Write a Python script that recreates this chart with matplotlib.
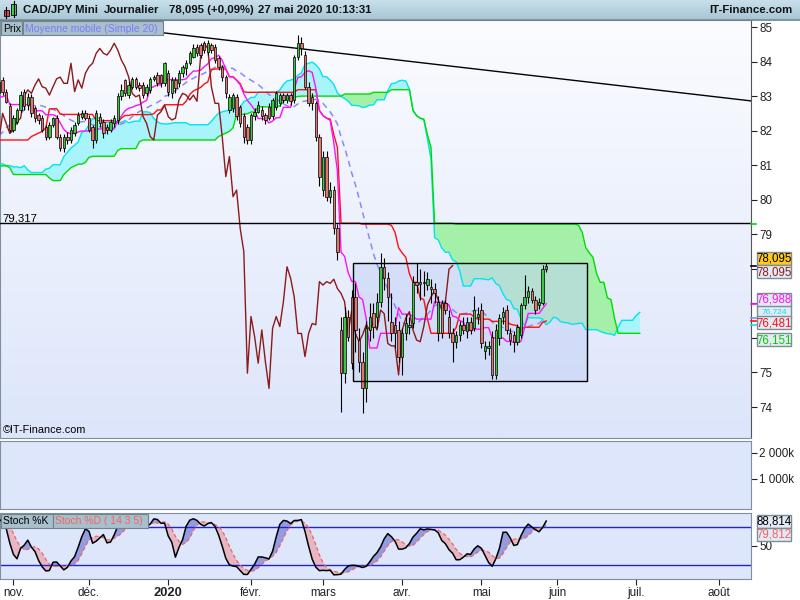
import numpy as np
import pandas as pd
import matplotlib
matplotlib.use("Agg")
import matplotlib.pyplot as plt
import matplotlib.transforms as mtransforms
from matplotlib.colors import LinearSegmentedColormap
from matplotlib.patches import Rectangle

plt.rcParams["font.family"] = ["Liberation Sans", "DejaVu Sans"]

# ---------------------------------------------------------------------------
# data
# 8 Jul - 25 Oct 2019, only used to warm up the indicators (not drawn)
pre_high = [82.6, 82.7, 82.8, 82.9, 83.0, 83.0, 82.9, 82.5, 82.4, 82.3,
            82.3, 82.4, 82.3, 82.1, 82.3, 82.4, 82.5, 82.3, 81.9, 81.2,
            80.6, 80.3, 80.3, 80.5, 80.4, 80.0, 80.6, 80.2, 79.9, 80.1,
            80.2, 80.2, 80.3, 80.3, 80.3, 79.8, 79.8, 79.9, 80.1, 80.2,
            80.1, 79.9, 80.8, 81.0, 81.1, 81.4, 81.5, 81.9, 82.0, 82.15,
            81.9, 82.0, 81.9, 81.8, 81.6, 81.2, 81.3, 81.4, 81.5, 81.6,
            81.7, 81.6, 81.0, 80.6, 80.6, 80.7, 80.7, 80.8, 81.6, 82.1,
            82.1, 82.1, 82.5, 82.7, 82.9, 83.0, 83.1, 83.0, 83.2, 83.5]
pre_low = [82.1, 82.2, 82.2, 82.4, 82.5, 82.6, 82.3, 82.0, 81.8, 81.8,
           81.9, 82.0, 81.8, 81.7, 81.9, 82.0, 82.1, 81.6, 80.8, 80.3,
           79.6, 79.5, 79.6, 79.9, 79.8, 79.4, 79.4, 79.4, 79.3, 79.6,
           79.8, 79.7, 79.9, 79.9, 79.3, 78.96, 79.3, 79.4, 79.6, 79.7,
           79.6, 79.4, 79.8, 80.5, 80.6, 80.9, 81.1, 81.4, 81.5, 81.6,
           81.3, 81.5, 81.4, 81.3, 80.9, 80.9, 80.7, 80.9, 81.0, 81.2,
           81.0, 80.8, 80.2, 79.9, 80.1, 80.2, 80.3, 80.4, 80.6, 81.7,
           81.7, 81.8, 82.4, 82.4, 82.5, 82.6, 82.7, 82.6, 82.8, 83.0]
pre_close = [82.5, 82.6, 82.5, 82.8, 82.9, 82.8, 82.4, 82.1, 82.0, 82.1,
             82.1, 82.2, 81.9, 82.0, 82.2, 82.2, 82.3, 81.8, 81.0, 80.5,
             79.8, 80.0, 80.1, 80.3, 79.9, 79.6, 80.3, 79.6, 79.7, 79.9,
             80.0, 79.9, 80.1, 80.1, 79.4, 79.6, 79.6, 79.8, 79.9, 79.9,
             79.8, 79.8, 80.7, 80.8, 81.0, 81.3, 81.4, 81.8, 81.7, 81.9,
             81.6, 81.7, 81.5, 81.4, 81.1, 81.1, 81.0, 81.3, 81.3, 81.5,
             81.3, 81.0, 80.3, 80.4, 80.3, 80.5, 80.4, 80.7, 81.5, 82.0,
             81.9, 82.0, 82.5, 82.6, 82.8, 82.9, 82.8, 82.9, 83.1, 83.3]

# 28 Oct 2019 - 27 May 2020, daily candles
first_day = "2019-10-28"
opens = [83.40, 83.47, 83.13, 82.70, 82.02, 82.25, 82.60, 83.13, 82.75, 82.98,
         82.65, 82.45, 82.36, 82.10, 81.83, 82.16, 82.36, 81.83, 81.49, 81.83,
         81.73, 81.92, 82.21, 82.40, 82.50, 82.36, 82.10, 81.73, 82.40, 82.26,
         82.10, 82.02, 82.21, 82.31, 83.00, 83.47, 83.03, 83.27, 83.50, 83.32,
         83.32, 83.08, 83.18, 83.50, 83.60, 83.60, 83.37, 83.66, 83.08, 83.47,
         83.37, 83.66, 83.80, 83.95, 84.14, 84.43, 84.48, 84.53, 84.28, 84.48,
         84.43, 84.09, 83.85, 83.56, 82.60, 82.65, 82.98, 82.69, 82.41, 82.12,
         81.73, 82.41, 82.55, 82.60, 82.45, 82.69, 82.41, 82.69, 82.79, 83.03,
         82.89, 83.03, 82.89, 84.14, 84.53, 84.19, 83.27, 82.98, 82.79, 81.83,
         80.28, 81.25, 80.09, 80.28, 79.17, 76.23, 74.98, 76.62, 77.19, 77.19,
         75.94, 75.31, 74.54, 76.23, 76.71, 76.62, 77.05, 78.06, 77.73, 76.47,
         76.38, 76.23, 75.46, 76.13, 76.33, 76.42, 77.63, 77.55, 77.60, 77.53,
         77.48, 77.43, 76.13, 77.00, 77.00, 76.62, 76.13, 75.89, 76.09, 76.38,
         76.19, 76.47, 76.28, 76.60, 76.81, 75.63, 75.70, 76.04, 74.93, 75.99,
         76.62, 76.81, 76.13, 76.09, 75.89, 76.09, 76.95, 77.19, 77.36, 77.10,
         76.95, 77.02, 77.99]
highs = [83.55, 83.56, 83.20, 82.80, 82.45, 82.65, 83.15, 83.20, 83.10, 83.05,
         82.70, 82.50, 82.45, 82.15, 82.25, 82.40, 82.45, 81.90, 81.90, 81.95,
         82.10, 82.25, 82.55, 82.60, 82.60, 82.45, 82.15, 82.60, 82.50, 82.35,
         82.20, 82.35, 82.45, 83.10, 83.35, 83.50, 83.45, 83.55, 83.55, 83.40,
         83.40, 83.35, 83.55, 83.60, 83.70, 83.65, 84.00, 83.75, 83.55, 83.55,
         83.75, 83.90, 84.05, 84.30, 84.50, 84.50, 84.55, 84.60, 84.62, 84.55,
         84.50, 84.15, 83.90, 83.60, 83.05, 83.10, 83.05, 82.75, 82.50, 82.20,
         82.50, 82.65, 82.85, 82.70, 82.50, 82.80, 82.95, 83.15, 83.10, 83.10,
         83.10, 83.10, 84.20, 84.77, 84.70, 84.30, 83.40, 83.10, 82.85, 81.90,
         81.40, 81.40, 80.50, 80.40, 79.30, 76.60, 76.90, 76.80, 77.40, 77.60,
         76.30, 75.60, 76.50, 77.00, 77.00, 77.30, 78.45, 78.30, 77.90, 77.30,
         76.60, 76.50, 76.30, 76.70, 76.60, 77.80, 78.16, 78.00, 77.95, 77.90,
         77.70, 77.60, 77.20, 77.10, 77.10, 76.80, 76.30, 76.20, 76.50, 76.60,
         76.60, 76.60, 77.20, 76.90, 77.00, 75.90, 75.90, 76.20, 76.40, 76.70,
         76.90, 76.95, 76.30, 76.20, 76.40, 77.00, 77.82, 77.50, 77.45, 77.20,
         77.15, 78.10, 78.18]
lows = [83.00, 83.03, 82.80, 81.95, 81.95, 82.20, 82.55, 82.60, 82.60, 82.40,
        82.25, 82.20, 81.95, 81.72, 81.75, 82.10, 81.75, 81.40, 81.38, 81.60,
        81.65, 81.85, 82.15, 82.35, 82.30, 81.95, 81.50, 81.65, 82.10, 81.80,
        81.90, 81.95, 82.10, 82.20, 82.90, 83.00, 82.95, 83.20, 83.20, 83.15,
        82.95, 83.00, 83.10, 83.45, 83.30, 83.25, 83.30, 83.00, 82.95, 83.10,
        83.25, 83.55, 83.60, 83.90, 84.10, 84.15, 84.10, 84.25, 84.20, 84.25,
        83.95, 83.75, 83.45, 82.95, 82.50, 82.55, 82.30, 82.10, 81.63, 81.60,
        81.60, 82.30, 82.50, 82.30, 82.20, 82.30, 82.35, 82.60, 82.70, 82.80,
        82.80, 82.75, 82.80, 84.05, 84.20, 83.20, 82.70, 82.60, 81.70, 80.40,
        80.10, 79.95, 79.90, 79.00, 78.26, 73.87, 74.70, 75.90, 75.10, 75.60,
        75.00, 73.82, 74.16, 75.90, 76.00, 76.30, 76.90, 77.40, 76.50, 75.90,
        75.70, 75.30, 74.93, 75.95, 76.10, 76.30, 77.30, 77.10, 77.20, 77.40,
        77.00, 77.00, 75.90, 76.00, 76.70, 76.00, 75.31, 75.70, 75.90, 76.10,
        76.00, 76.10, 76.20, 76.40, 75.70, 75.40, 75.50, 74.80, 74.80, 75.80,
        76.40, 76.10, 75.80, 75.60, 75.80, 76.00, 76.85, 77.00, 77.00, 76.70,
        76.85, 76.95, 77.90]
closes = [83.10, 83.13, 82.84, 82.02, 82.36, 82.60, 83.03, 82.70, 82.98, 82.50,
          82.36, 82.30, 82.02, 81.83, 82.16, 82.36, 81.83, 81.49, 81.83, 81.73,
          82.02, 82.16, 82.45, 82.50, 82.38, 82.02, 81.73, 82.50, 82.21, 81.92,
          82.02, 82.26, 82.36, 83.00, 83.18, 83.08, 83.32, 83.50, 83.27, 83.23,
          83.03, 83.27, 83.50, 83.55, 83.37, 83.37, 83.95, 83.13, 83.47, 83.23,
          83.66, 83.85, 83.95, 84.24, 84.38, 84.24, 84.19, 84.33, 84.53, 84.33,
          84.04, 83.85, 83.56, 83.08, 82.98, 83.03, 82.41, 82.21, 81.83, 81.73,
          82.45, 82.55, 82.74, 82.41, 82.31, 82.36, 82.89, 83.08, 83.03, 82.89,
          83.03, 82.85, 84.14, 84.53, 84.38, 83.27, 82.79, 82.79, 81.83, 80.67,
          81.25, 80.09, 80.28, 79.17, 78.50, 74.98, 76.62, 76.04, 75.27, 76.23,
          75.31, 74.54, 76.28, 76.62, 76.33, 77.05, 78.06, 77.73, 77.19, 76.13,
          76.13, 75.46, 76.13, 76.42, 76.38, 77.63, 77.53, 77.63, 77.58, 77.70,
          77.43, 77.29, 77.05, 76.13, 76.81, 76.13, 75.89, 76.09, 76.38, 76.23,
          76.47, 76.23, 76.81, 76.70, 75.84, 75.77, 75.77, 74.93, 76.23, 76.57,
          76.76, 76.23, 75.94, 75.89, 76.33, 76.95, 77.19, 77.36, 77.10, 76.81,
          77.05, 77.99, 78.095]

# drawing objects placed by the chart's user (bar index, price)
hline_level = 79.317
trend_bars = [40, 209]
trend_prices = [84.90, 82.86]
zone_bars = [98.3, 163.3]
zone_prices = [74.75, 78.17]

# price scale: levels whose label is hidden behind the value flags
price_ticks = list(range(74, 86))
hidden_ticks = [76, 77, 78]

# last-value flags on the price scale
flag_texts = ["78,095", "78,095", "76,988", "76,724", "76,481", "76,151"]
flag_levels = [78.095, 78.095, 76.988, 76.724, 76.481, 76.151]
stoch_flag_texts = ["88,814", "79,812"]
stoch_flag_levels = [88.814, 79.812]

month_labels = ["nov.", "déc.", "2020", "févr.", "mars", "avr.", "mai",
                "juin", "juil.", "août"]
volume_ticks = [1_000_000, 2_000_000]
volume_labels = ["1 000k", "2 000k"]

# ---------------------------------------------------------------------------
# indicators (Ichimoku, SMA 20, slow stochastic 14/3/5)
H = pd.Series(pre_high + highs)
L = pd.Series(pre_low + lows)
C = pd.Series(pre_close + closes)
kk = np.arange(len(C)) - len(pre_close)

tenkan = (H.rolling(9).max() + L.rolling(9).min()) / 2
kijun = (H.rolling(26).max() + L.rolling(26).min()) / 2
span_a = ((tenkan + kijun) / 2).to_numpy()
span_b = ((H.rolling(52).max() + L.rolling(52).min()) / 2).to_numpy()
sma20 = C.rolling(20).mean()
lo14 = L.rolling(14).min()
hi14 = H.rolling(14).max()
stoch_k = (100 * (C - lo14) / (hi14 - lo14)).rolling(3).mean().to_numpy()
stoch_d = pd.Series(stoch_k).rolling(5).mean().to_numpy()

dates = pd.bdate_range(first_day, periods=215)
month_starts = [i for i in range(1, len(dates)) if dates[i].month != dates[i - 1].month]
month_starts = month_starts[:len(month_labels)]

# ---------------------------------------------------------------------------
W, HP = 800, 600
fig = plt.figure(figsize=(8, 6), dpi=100)
fig.patch.set_facecolor("white")


def px_axes(x0, y0, x1, y1, **kw):
    return fig.add_axes([x0 / W, 1 - y1 / HP, (x1 - x0) / W, (y1 - y0) / HP], **kw)


XLIM = ((0 + 1) / 3.6, (751 + 1) / 3.6)
border = "#7f8f9c"
panel_bg = "#dde6fb"
SCALE_FS = 8.4

# main price panel
ax = px_axes(0, 20, 751, 438)
bg = LinearSegmentedColormap.from_list("bg", ["#fbfcff", "#dce5fa"])
ax.imshow(np.linspace(0, 1, 256).reshape(-1, 1), extent=(0, 1, 0, 1),
          transform=ax.transAxes, cmap=bg, aspect="auto", zorder=0)

xc = kk + 26
ok = ~np.isnan(span_a) & ~np.isnan(span_b)
ax.fill_between(xc[ok], span_a[ok], span_b[ok], where=span_a[ok] >= span_b[ok],
                interpolate=True, color="#a9f4fb", lw=0, zorder=1)
ax.fill_between(xc[ok], span_a[ok], span_b[ok], where=span_a[ok] < span_b[ok],
                interpolate=True, color="#a4f0a8", lw=0, zorder=1)

ax.add_patch(Rectangle((zone_bars[0], zone_prices[0]), zone_bars[1] - zone_bars[0],
                       zone_prices[1] - zone_prices[0], facecolor="#c4d2f6", alpha=0.55,
                       edgecolor="none", zorder=2))
ax.add_patch(Rectangle((zone_bars[0], zone_prices[0]), zone_bars[1] - zone_bars[0],
                       zone_prices[1] - zone_prices[0], facecolor="none",
                       edgecolor="black", lw=1.0, zorder=7))

ax.plot(xc[ok], span_a[ok], color="#00e4f0", lw=1.0, zorder=3)
ax.plot(xc[ok], span_b[ok], color="#00dc00", lw=1.0, zorder=3)
ax.plot(kk, sma20, color="#8a8af5", lw=1.1, ls=(0, (4, 3)), zorder=4)
ax.plot(kk, kijun, color="#ff1010", lw=1.0, zorder=4)
ax.plot(kk, tenkan, color="#ff10ff", lw=1.0, zorder=4)
ax.plot(kk - 26, C, color="#8b1a1a", lw=1.0, zorder=4)

ax.axhline(hline_level, color="black", lw=1.0, zorder=4)
ax.plot(trend_bars, trend_prices, color="black", lw=1.0, zorder=4)

# candles
kb = np.arange(len(closes))
o = np.array(opens); c = np.array(closes)
up = c >= o
ax.vlines(kb, lows, highs, color="black", lw=0.8, zorder=5)
ax.bar(kb, np.maximum(np.abs(c - o), 0.03), bottom=np.minimum(o, c), width=0.62,
       color=np.where(up, "#3fc43f", "#e0776c"), edgecolor="black", lw=0.5, zorder=6)

ax.set_xlim(*XLIM)
ax.set_ylim(73.104, 85.203)
ax.set_xticks([])
ax.yaxis.tick_right()
ax.set_yticks(price_ticks)
ax.set_yticklabels(["" if v in hidden_ticks else str(v) for v in price_ticks], fontsize=SCALE_FS)
ax.tick_params(axis="y", length=4, width=0.8, pad=2, colors="#222222")
for s in ax.spines.values():
    s.set_color(border)
ax.spines["right"].set_color("#555555")
ax.text(0.003, hline_level, "79,317",
        transform=mtransforms.blended_transform_factory(ax.transAxes, ax.transData),
        fontsize=8.2, va="bottom", ha="left", zorder=8)
ax.text(0.004, 0.006, "©IT-Finance.com", transform=ax.transAxes, fontsize=7.8,
        va="bottom", ha="left", zorder=8)

# small colored marks on the price scale
blend = mtransforms.blended_transform_factory(ax.transAxes, ax.transData)
mark_colors = ["black", "#ff10ff", "#00e4f0", "#8a8af5", "#ff1010", "#00dc00"]
mark_levels = [closes[-1], tenkan.iloc[-1], span_a[-27], sma20.iloc[-1], kijun.iloc[-1], span_b[-27]]
for col, lev in zip(mark_colors, mark_levels):
    ax.plot([1.0, 1.007], [lev, lev], color=col, lw=1.2, transform=blend, clip_on=False, zorder=9)

# volume panel (empty for forex)
axv = px_axes(0, 441, 751, 509)
axv.set_facecolor(panel_bg)
axv.set_xlim(*XLIM)
axv.set_ylim(-154_000, 2_461_000)
axv.set_xticks([])
axv.yaxis.tick_right()
axv.set_yticks(volume_ticks)
axv.set_yticklabels(volume_labels, fontsize=SCALE_FS)
axv.tick_params(axis="y", length=4, width=0.8, pad=2, colors="#222222")
for s in axv.spines.values():
    s.set_color(border)

# stochastic panel
axs = px_axes(0, 513, 751, 579)
axs.set_facecolor(panel_bg)
vk = kk >= -2
sk, sd, sx = stoch_k[vk], stoch_d[vk], kk[vk]
axs.fill_between(sx, sk, sd, where=sk >= sd, interpolate=True, color="#949be0", lw=0, zorder=1)
axs.fill_between(sx, sk, sd, where=sk < sd, interpolate=True, color="#e6b6c2", lw=0, zorder=1)
axs.axhline(80, color="#2222dd", lw=1.0, zorder=2)
axs.axhline(20, color="#2222dd", lw=1.0, zorder=2)
axs.plot(sx, sd, color="#f06464", lw=0.9, ls=(0, (3, 2)), zorder=3)
axs.plot(sx, sk, color="black", lw=1.1, zorder=4)
axs.set_xlim(*XLIM)
axs.set_ylim(-2, 102)
axs.yaxis.tick_right()
axs.set_yticks([50])
axs.set_yticklabels(["50"], fontsize=SCALE_FS)
axs.tick_params(axis="y", length=4, width=0.8, pad=2, colors="#222222")
axs.set_xticks(month_starts)
axs.set_xticklabels(month_labels, fontsize=8.4)
axs.tick_params(axis="x", length=4, width=0.8, pad=1.5, colors="#222222")
for lab, txt in zip(axs.get_xticklabels(), month_labels):
    if txt == "2020":
        lab.set_fontweight("bold")
        lab.set_fontsize(9.3)
for s in axs.spines.values():
    s.set_color(border)

# ---------------------------------------------------------------------------
# overlay in pixel coordinates: title bar, legends, value flags
ov = fig.add_axes([0, 0, 1, 1], zorder=10)
ov.patch.set_alpha(0)
title_cm = LinearSegmentedColormap.from_list("tb", ["#c9e0ea", "#a7c7d6"])
ov.imshow(np.linspace(0, 1, 64).reshape(-1, 1), extent=(0, 800, 19, 0),
          cmap=title_cm, aspect="auto")
ov.plot([0, 800], [19.5, 19.5], color="#6e7f8c", lw=1.2)
ov.set_xlim(0, 800)
ov.set_ylim(600, 0)
ov.axis("off")

# candle icon
ov.plot([6, 6], [7, 18], color="black", lw=0.8)
ov.add_patch(Rectangle((4, 10), 4.5, 6, facecolor="#e0474f", edgecolor="black", lw=0.6))
ov.plot([13.5, 13.5], [1, 17], color="black", lw=0.8)
ov.add_patch(Rectangle((11, 3.5), 5, 11, facecolor="#49d049", edgecolor="black", lw=0.6))

title_parts = [(23, "CAD/JPY Mini"), (104, "Journalier"), (169, "78,095 (+0,09%)"),
               (258, "27 mai 2020 10:13:31")]
for x, t in title_parts:
    ov.text(x, 10, t, fontsize=8.2, fontweight="bold", va="center", ha="left", color="#111111")
ov.text(793, 10, "IT-Finance.com", fontsize=8.2, fontweight="bold", va="center", ha="right",
        color="#111111")

# legend boxes
legend_bg = "#a9c0cc"
LEG_FS = 7.5
ov.add_patch(Rectangle((1, 21), 21, 14, facecolor=legend_bg, edgecolor="#6f8391", lw=0.8))
ov.text(3, 28.5, "Prix", fontsize=LEG_FS, va="center", ha="left", color="black")
ov.add_patch(Rectangle((23, 21), 140, 14, facecolor=legend_bg, edgecolor="#6f8391", lw=0.8))
ov.text(25, 28.5, "Moyenne mobile (Simple 20)", fontsize=LEG_FS, va="center", ha="left",
        color="#7b7bff")
ov.add_patch(Rectangle((1, 514), 52, 13.5, facecolor=legend_bg, edgecolor="#6f8391", lw=0.8))
ov.text(3, 521, "Stoch %K", fontsize=LEG_FS, va="center", ha="left", color="black")
ov.add_patch(Rectangle((53, 514), 95, 13.5, facecolor=legend_bg, edgecolor="#6f8391", lw=0.8))
ov.text(55, 521, "Stoch %D ( 14 3 5)", fontsize=LEG_FS, va="center", ha="left", color="#f06464")


def ypx(axis, v):
    return HP - axis.transData.transform((XLIM[0], v))[1]


flag_text_colors = ["black", "#8b1a1a", "#ff10ff", "#00e4f0", "#ff1010", "#00cc00"]
flag_faces = ["#ffc81e", "#e4eaf4", "#e4eaf4", "#e4eaf4", "#e4eaf4", "#e4eaf4"]
flag_shift = [-7.5, 6, -4.5, -1.4, 1.5, 7]
flag_sizes = [8.3, 8.3, 8.3, 6.0, 8.3, 8.3]
# the cyan flag is drawn first: the magenta and red flags partly cover it
draw_order = [3, 0, 1, 2, 4, 5]
centers = [ypx(ax, lev) + sh for lev, sh in zip(flag_levels, flag_shift)]
for i in draw_order:
    yc = centers[i]
    ov.add_patch(Rectangle((757, yc - 6.5), 34, 13, facecolor=flag_faces[i],
                           edgecolor="#7d8c99", lw=1.0))
    t = ov.text(774, yc + 0.5, flag_texts[i], fontsize=flag_sizes[i], va="center",
                ha="center", color=flag_text_colors[i])
    if i == 3:
        top = centers[2] + 6.5
        clip = Rectangle((757, top), 34, (centers[4] - 6.5) - top, transform=ov.transData)
        t.set_clip_path(clip)

stoch_shift = [0, 7]
stoch_text_colors = ["black", "#f06464"]
for i in range(2):
    yc = ypx(axs, stoch_flag_levels[i]) + stoch_shift[i]
    ov.add_patch(Rectangle((757, yc - 6.5), 34, 13, facecolor="#e4eaf4",
                           edgecolor="#7d8c99", lw=1.0))
    ov.text(774, yc + 0.5, stoch_flag_texts[i], fontsize=8.3, va="center", ha="center",
            color=stoch_text_colors[i])

fig.savefig("out.png", dpi=100)
